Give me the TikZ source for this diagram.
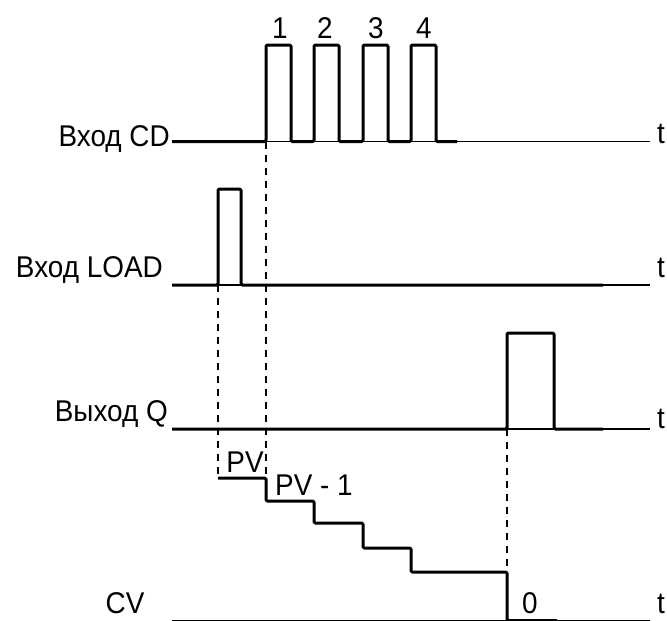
\documentclass[tikz,border=0pt]{standalone}
\usepackage{fontspec}
\setmainfont{Liberation Sans}[FakeStretch=0.93]
\begin{document}
\begin{tikzpicture}[x=1pt,y=-1pt,
  lbl/.style={inner sep=0pt,font=\fontsize{30}{34}\selectfont},
  wave/.style={line width=3pt,line join=round,rounded corners=1.2pt},
  axis/.style={line width=1.5pt},
  guide/.style={line width=1.2pt,dash pattern=on 7pt off 6pt}]
\useasboundingbox (0,0) rectangle (667,621);
% axes
\coordinate (cdA) at (172,141.5); \coordinate (cdE) at (650,141.5);
\coordinate (ldA) at (172,285);   \coordinate (ldE) at (650,285);
\coordinate (qA)  at (172,429);   \coordinate (qE)  at (650,429);
\coordinate (cvA) at (172,620.5); \coordinate (cvE) at (650,620.5);
\draw[axis] (cdA) -- (cdE);
\draw[axis] (ldA) -- (ldE);
\draw[axis] (qA) -- (qE);
\draw[axis] (cvA) -- (cvE);
% CD waveform
\draw[wave] (cdA) -- (266,141.5) -- (266,45) -- (291,45) -- (291,141.5)
  -- (314,141.5) -- (314,45) -- (339,45) -- (339,141.5)
  -- (363,141.5) -- (363,45) -- (388,45) -- (388,141.5)
  -- (411,141.5) -- (411,45) -- (436,45) -- (436,141.5) -- (457,141.5);
% LOAD waveform
\draw[wave] (ldA) -- (218,285) -- (218,189) -- (241,189) -- (241,285) -- (603,285);
% Q waveform
\draw[wave] (qA) -- (507,429) -- (507,333) -- (554,333) -- (554,429) -- (603,429);
% CV staircase
\draw[wave] (218,478) -- (266,478) -- (266,501) -- (314,501) -- (314,523)
  -- (363,523) -- (363,548) -- (411,548) -- (411,572) -- (507,572)
  -- (507,620.5) -- (557,620.5);
% guides
\coordinate (g1a) at (266,141.5); \coordinate (g1b) at (266,501);
\coordinate (g2a) at (218,285);   \coordinate (g2b) at (218,478);
\coordinate (g3a) at (507,429);   \coordinate (g3b) at (507,572);
\draw[guide] (g1a) -- (g1b);
\draw[guide] (g2a) -- (g2b);
\draw[guide] (g3a) -- (g3b);
% labels
\node[lbl,anchor=base east] (lcd) at (170,146) {Вход CD};
\node[lbl,anchor=base east] (lld) at (163,277) {Вход LOAD};
\node[lbl,anchor=base east] (lq) at (168,421) {Выход Q};
\node[lbl,anchor=base] (lcv) at (125,613) {CV};
\node[lbl,anchor=base west] (t1) at (657,143) {t};
\node[lbl,anchor=base west] (t2) at (657,277) {t};
\node[lbl,anchor=base west] (t3) at (657,428) {t};
\node[lbl,anchor=base west] (t4) at (657,613) {t};
\node[lbl,anchor=base] (n1) at (280,38) {1};
\node[lbl,anchor=base] (n2) at (325,38) {2};
\node[lbl,anchor=base] (n3) at (376,38) {3};
\node[lbl,anchor=base] (n4) at (424,38) {4};
\node[lbl,anchor=base] (pv) at (245,472) {PV};
\node[lbl,anchor=base west] (pv1) at (275,495) {PV - 1};
\node[lbl,anchor=base] (z) at (530,613) {0};
\end{tikzpicture}
\end{document}
